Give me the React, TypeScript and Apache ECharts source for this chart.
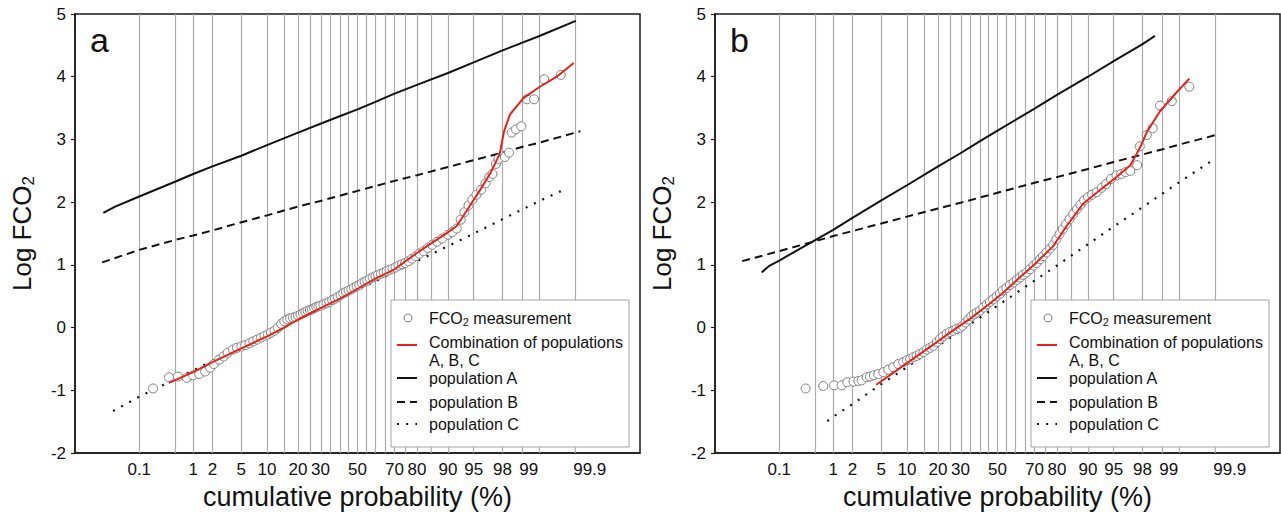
import { useEffect, useRef } from 'react';
import * as echarts from 'echarts';

// ---------- axis definitions ----------
const gridProbs = [0.1, 0.5, 1, 2, 5, 10, 15, 20, 25, 30, 35, 40, 45, 50, 55, 60, 65, 70, 75, 80, 85, 90, 95, 98, 99, 99.5, 99.9];
const tickProbs = [0.1, 1, 2, 5, 10, 20, 30, 50, 70, 80, 90, 95, 98, 99, 99.9];
const tickLabels = ['0.1', '1', '2', '5', '10', '20', '30', '50', '70', '80', '90', '95', '98', '99', '99.9'];
const yMin = -2;
const yMax = 5;

const panelLetters = ['a', 'b'];
const MEAS = 'FCO2 measurement';
const COMB = 'Combination of populations A, B, C';
const POPA = 'population A';
const POPB = 'population B';
const POPC = 'population C';

// ---------- panel a data: [cumulative probability %, log FCO2] ----------
const aPopA: [number, number][] = [[0.016, 1.83], [0.03, 1.93], [0.1, 2.09], [0.5, 2.33], [1, 2.45], [2, 2.57], [5, 2.74], [10, 2.91], [20, 3.11], [30, 3.25], [40, 3.37], [50, 3.48], [60, 3.6], [70, 3.73], [80, 3.87], [90, 4.06], [95, 4.23], [98, 4.42], [99, 4.54], [99.5, 4.65], [99.9, 4.89]];
const aPopB: [number, number][] = [[0.015, 1.04], [0.1, 1.24], [0.5, 1.4], [1, 1.47], [2, 1.55], [5, 1.68], [10, 1.79], [20, 1.93], [30, 2.02], [50, 2.18], [70, 2.34], [80, 2.43], [90, 2.56], [95, 2.67], [98, 2.79], [99, 2.88], [99.5, 2.95], [99.92, 3.13]];
const aPopC: [number, number][] = [[0.027, -1.33], [0.1, -1.1], [0.5, -0.82], [1, -0.68], [2, -0.53], [5, -0.3], [10, -0.1], [20, 0.14], [30, 0.31], [50, 0.6], [70, 0.89], [80, 1.06], [90, 1.3], [95, 1.5], [98, 1.73], [99, 1.88], [99.5, 2.02], [99.85, 2.22]];
const aCombined: [number, number][] = [[0.38, -0.88], [1, -0.71], [2, -0.55], [5, -0.33], [10, -0.14], [15, 0.0], [20, 0.13], [30, 0.31], [40, 0.46], [50, 0.62], [60, 0.78], [70, 0.93], [80, 1.19], [85, 1.34], [90, 1.52], [92, 1.62], [94, 1.88], [96, 2.22], [97, 2.46], [97.8, 2.77], [98.1, 3.13], [98.46, 3.4], [99.06, 3.66], [99.51, 3.84], [99.76, 4.0], [99.89, 4.22]];
const aMeasured: [number, number][] = [[0.19, -0.97], [0.38, -0.79], [0.55, -0.78], [0.78, -0.8], [1.0, -0.76], [1.25, -0.74], [1.55, -0.7], [1.85, -0.64], [2.1, -0.58], [2.5, -0.51], [2.9, -0.46], [3.3, -0.4], [3.9, -0.35], [4.4, -0.32], [5.0, -0.3], [5.6, -0.28], [6.3, -0.25], [7.0, -0.22], [7.8, -0.19], [8.6, -0.16], [9.4, -0.13], [10.2, -0.11], [11, -0.08], [12, -0.05], [13, 0.0], [14, 0.06], [15, 0.1], [16, 0.13], [17, 0.15], [18, 0.16], [19, 0.17], [20, 0.19], [21, 0.21], [22, 0.23], [23, 0.25], [24, 0.27], [25, 0.28], [26, 0.29], [27, 0.31], [28, 0.33], [29, 0.34], [30, 0.35], [31.5, 0.37], [33, 0.39], [34.5, 0.41], [36, 0.44], [37.5, 0.46], [39, 0.49], [40.5, 0.52], [42, 0.55], [43.5, 0.57], [45, 0.59], [46.5, 0.61], [48, 0.64], [49.5, 0.66], [51, 0.68], [52.5, 0.71], [54, 0.73], [55.5, 0.75], [57, 0.78], [58.5, 0.8], [60, 0.82], [61.5, 0.84], [63, 0.86], [64.5, 0.88], [66, 0.9], [67.5, 0.92], [69, 0.94], [70.5, 0.96], [72, 0.99], [73.5, 1.01], [75, 1.03], [76.5, 1.06], [78, 1.1], [79.5, 1.14], [81, 1.18], [82.5, 1.22], [84, 1.27], [85.5, 1.32], [87, 1.37], [88.5, 1.42], [90, 1.48], [91, 1.52], [92, 1.58], [92.8, 1.72], [93.5, 1.84], [94.2, 1.95], [94.8, 2.04], [95.4, 2.12], [96, 2.2], [96.5, 2.3], [96.9, 2.4], [97.2, 2.45], [97.5, 2.61], [97.7, 2.69], [98.15, 2.72], [98.4, 2.79], [98.55, 3.11], [98.75, 3.16], [98.98, 3.21], [99.18, 3.64], [99.38, 3.64], [99.59, 3.96], [99.8, 4.03]];

// ---------- panel b data ----------
const bPopA: [number, number][] = [[0.042, 0.88], [0.06, 0.98], [0.1, 1.07], [0.5, 1.4], [1, 1.56], [2, 1.75], [5, 2.03], [10, 2.27], [20, 2.57], [30, 2.78], [40, 2.97], [50, 3.14], [60, 3.31], [70, 3.49], [80, 3.71], [90, 4.0], [95, 4.25], [98, 4.52], [98.71, 4.65]];
const bPopB: [number, number][] = [[0.015, 1.06], [0.1, 1.22], [0.5, 1.38], [1, 1.46], [2, 1.54], [5, 1.66], [10, 1.77], [20, 1.9], [30, 1.99], [50, 2.15], [70, 2.31], [80, 2.4], [90, 2.53], [95, 2.64], [98, 2.76], [99, 2.84], [99.5, 2.92], [99.9, 3.07]];
const bPopC: [number, number][] = [[0.8, -1.49], [1, -1.42], [2, -1.22], [5, -0.9], [10, -0.63], [20, -0.29], [30, -0.05], [50, 0.35], [70, 0.75], [80, 0.99], [90, 1.33], [95, 1.61], [98, 1.92], [99, 2.13], [99.5, 2.32], [99.88, 2.66]];
const bCombined: [number, number][] = [[4.3, -0.91], [10.8, -0.53], [18.2, -0.27], [25, -0.08], [34.8, 0.14], [45, 0.37], [53.3, 0.56], [62, 0.79], [69.4, 0.99], [78.5, 1.3], [83.6, 1.62], [88.8, 1.98], [92.6, 2.19], [95.4, 2.4], [97.0, 2.59], [97.56, 2.77], [97.93, 2.92], [98.26, 3.11], [98.93, 3.45], [99.45, 3.76], [99.67, 3.97]];
const bMeasured: [number, number][] = [[0.33, -0.97], [0.68, -0.93], [1.03, -0.92], [1.37, -0.92], [1.67, -0.87], [2.07, -0.86], [2.44, -0.85], [2.72, -0.84], [3.2, -0.79], [3.55, -0.78], [4.0, -0.76], [4.57, -0.74], [5.3, -0.71], [6.1, -0.67], [7.0, -0.63], [8.0, -0.58], [9.1, -0.55], [10, -0.52], [10.8, -0.5], [11.7, -0.47], [12.6, -0.45], [13.6, -0.42], [14.7, -0.39], [15.8, -0.35], [17, -0.32], [18.2, -0.29], [19.5, -0.23], [20.8, -0.18], [22, -0.14], [23.5, -0.1], [25, -0.07], [26.5, -0.05], [28, -0.02], [29.8, 0.0], [31, 0.03], [32.5, 0.08], [34, 0.13], [35.5, 0.18], [37, 0.21], [38.5, 0.24], [40.2, 0.27], [42, 0.32], [44, 0.37], [45.8, 0.41], [47.5, 0.45], [49.5, 0.5], [51.4, 0.54], [53, 0.59], [55, 0.63], [57, 0.68], [59, 0.72], [60.7, 0.76], [62.5, 0.8], [64, 0.84], [66, 0.88], [67.7, 0.93], [69.5, 0.99], [71, 1.03], [72.6, 1.09], [74, 1.14], [75.6, 1.2], [77.2, 1.26], [78.5, 1.32], [79.8, 1.41], [81, 1.49], [82.2, 1.57], [83.4, 1.65], [84.6, 1.73], [85.8, 1.81], [87, 1.89], [88, 1.96], [89, 2.03], [90, 2.08], [91, 2.12], [92, 2.16], [93, 2.23], [93.8, 2.29], [94.6, 2.37], [95.4, 2.43], [96.0, 2.45], [96.5, 2.48], [97.0, 2.5], [97.6, 2.59], [97.8, 2.89], [98.27, 3.07], [98.6, 3.18], [98.93, 3.54], [99.32, 3.61], [99.67, 3.84]];

const panels = [
  { popA: aPopA, popB: aPopB, popC: aPopC, combined: aCombined, measured: aMeasured },
  { popA: bPopA, popB: bPopB, popC: bPopC, combined: bCombined, measured: bMeasured },
];

// ---------- styles ----------
const FONT = "'Liberation Sans', Arial, Helvetica, sans-serif";
const INK = '#111111';
const RED = '#e3231b';
const GRIDLINE = '#ababab';
const CIRCLE_BORDER = '#7d7d7d';
const DASH = [8, 5];
const DOT = [2, 7.2];
const gridBoxes = [
  { left: 75, top: 14, width: 565, height: 446 },
  { left: 715, top: 14, width: 565, height: 446 },
];
const legendOrigins = [
  [391, 300],
  [1031, 300],
];
// label nudges (px to the right of the gridline) as printed in the figure
const labelNudge: Record<string, number> = { '99': 7, '99.9': 14 };

// inverse standard normal CDF (probability-paper scale)
function probit(p: number): number {
  const a = [-3.969683028665376e1, 2.209460984245205e2, -2.759285104469687e2, 1.38357751867269e2, -3.066479806614716e1, 2.506628277459239];
  const b = [-5.447609879822406e1, 1.615858368580409e2, -1.556989798598866e2, 6.680131188771972e1, -1.328068155288572e1];
  const c = [-7.784894002430293e-3, -3.223964580411365e-1, -2.400758277161838, -2.549732539343734, 4.374664141464968, 2.938163982698783];
  const d = [7.784695709041462e-3, 3.224671290700398e-1, 2.445134137142996, 3.754408661907416];
  const pl = 0.02425;
  if (p < pl) {
    const q = Math.sqrt(-2 * Math.log(p));
    return (((((c[0] * q + c[1]) * q + c[2]) * q + c[3]) * q + c[4]) * q + c[5]) / ((((d[0] * q + d[1]) * q + d[2]) * q + d[3]) * q + 1);
  }
  if (p <= 1 - pl) {
    const q = p - 0.5;
    const r = q * q;
    return ((((((a[0] * r + a[1]) * r + a[2]) * r + a[3]) * r + a[4]) * r + a[5]) * q) / (((((b[0] * r + b[1]) * r + b[2]) * r + b[3]) * r + b[4]) * r + 1);
  }
  const q = Math.sqrt(-2 * Math.log(1 - p));
  return -(((((c[0] * q + c[1]) * q + c[2]) * q + c[3]) * q + c[4]) * q + c[5]) / ((((d[0] * q + d[1]) * q + d[2]) * q + d[3]) * q + 1);
}

const toXY = (arr: [number, number][]) => arr.map(([p, v]) => [probit(p / 100), v]);
const gridZ = gridProbs.map((p) => probit(p / 100));
const tickZ = tickProbs.map((p) => probit(p / 100));

function labelFor(v: number): string {
  let best = 0;
  for (let i = 1; i < tickZ.length; i++) {
    if (Math.abs(tickZ[i] - v) < Math.abs(tickZ[best] - v)) best = i;
  }
  const t = tickLabels[best];
  if (t === '99.9') return `{r14|${t}}`;
  if (t === '99') return `{r7|${t}}`;
  return t;
}

function legendText(x: number, y: number, text: string) {
  return {
    type: 'text',
    x,
    y,
    z: 101,
    silent: true,
    style: {
      text,
      fill: INK,
      fontSize: 16,
      fontFamily: FONT,
      align: 'left',
      textAlign: 'left',
      verticalAlign: 'middle',
      textVerticalAlign: 'middle',
      rich: {
        t: { fontSize: 16, lineHeight: 18, fontFamily: FONT, fill: INK, color: INK },
        s: { fontSize: 11, lineHeight: 6, verticalAlign: 'bottom', fontFamily: FONT, fill: INK, color: INK },
      },
    },
  };
}

function legendLine(y: number, stroke: string, dash: number[] | null) {
  return {
    type: 'line',
    z: 101,
    silent: true,
    shape: { x1: 6, y1: y, x2: 26, y2: y },
    style: { stroke, lineWidth: 2, lineDash: dash || undefined, lineCap: 'butt' },
  };
}

function legendGroup(x: number, y: number) {
  return {
    type: 'group',
    x,
    y,
    z: 100,
    children: [
      { type: 'rect', z: 100, silent: true, shape: { x: 0, y: 0, width: 238, height: 147 }, style: { fill: '#ffffff', stroke: '#a3a3a3', lineWidth: 1 } },
      { type: 'circle', z: 101, silent: true, shape: { cx: 17, cy: 18, r: 4 }, style: { fill: '#ffffff', stroke: CIRCLE_BORDER, lineWidth: 1 } },
      legendText(38, 18, '{t|FCO}{s|2}{t| measurement}'),
      legendLine(45, RED, null),
      legendText(38, 42, 'Combination of populations'),
      legendText(38, 60, 'A, B, C'),
      legendLine(78, INK, null),
      legendText(38, 78, POPA),
      legendLine(102, INK, DASH),
      legendText(38, 102, POPB),
      legendLine(124, INK, DOT),
      legendText(38, 124, POPC),
    ],
  };
}

function buildOption() {
  const series: any[] = [];
  panels.forEach((pd, i) => {
    series.push({
      type: 'line',
      xAxisIndex: i,
      yAxisIndex: i,
      data: [],
      silent: true,
      z: 1,
      markLine: {
        z: 1,
        silent: true,
        symbol: ['none', 'none'],
        label: { show: false },
        emphasis: { disabled: true },
        lineStyle: { color: GRIDLINE, width: 1.2, type: 'solid' },
        data: gridZ.map((z) => ({ xAxis: z })),
      },
    });
    series.push({
      name: POPA, type: 'line', xAxisIndex: i, yAxisIndex: i, symbol: 'none', z: 3,
      lineStyle: { color: INK, width: 2, type: 'solid' }, data: toXY(pd.popA),
    });
    series.push({
      name: POPB, type: 'line', xAxisIndex: i, yAxisIndex: i, symbol: 'none', z: 3,
      lineStyle: { color: INK, width: 2, type: DASH, cap: 'butt' }, data: toXY(pd.popB),
    });
    series.push({
      name: POPC, type: 'line', xAxisIndex: i, yAxisIndex: i, symbol: 'none', z: 3,
      lineStyle: { color: INK, width: 2.2, type: DOT, cap: 'butt' }, data: toXY(pd.popC),
    });
    series.push({
      name: MEAS, type: 'scatter', xAxisIndex: i, yAxisIndex: i, symbol: 'circle', symbolSize: 9, z: 4,
      itemStyle: { color: '#ffffff', borderColor: CIRCLE_BORDER, borderWidth: 1, opacity: 1 },
      data: toXY(pd.measured),
    });
    series.push({
      name: COMB, type: 'line', xAxisIndex: i, yAxisIndex: i, symbol: 'none', z: 5,
      lineStyle: { color: RED, width: 2 }, data: toXY(pd.combined),
    });
  });

  return {
    animation: false,
    backgroundColor: '#ffffff',
    textStyle: { fontFamily: FONT, color: INK },
    title: panelLetters.map((t, i) => ({
      text: t,
      left: gridBoxes[i].left + 10,
      top: 18,
      textStyle: { fontSize: 34, fontWeight: 'normal', color: INK, fontFamily: FONT },
    })),
    grid: gridBoxes.map((g) => ({
      ...g,
      show: true,
      borderColor: '#1a1a1a',
      borderWidth: 1.5,
      backgroundColor: 'transparent',
      containLabel: false,
    })),
    xAxis: panels.map((_, i) => ({
      type: 'value',
      gridIndex: i,
      min: -4,
      max: 4,
      axisLine: { show: true, onZero: false, lineStyle: { color: '#1a1a1a', width: 1.5 } },
      axisTick: { show: false },
      splitLine: { show: false },
      axisLabel: {
        customValues: tickZ,
        formatter: labelFor,
        fontSize: 17,
        color: INK,
        margin: 8,
        rich: {
          r14: { fontSize: 17, color: INK, fontFamily: FONT, padding: [0, 0, 0, labelNudge['99.9'] * 2] },
          r7: { fontSize: 17, color: INK, fontFamily: FONT, padding: [0, 0, 0, labelNudge['99'] * 2] },
        },
      },
      name: 'cumulative probability (%)',
      nameLocation: 'middle',
      nameGap: 21,
      nameTextStyle: { fontSize: 27, color: INK, fontFamily: FONT },
    })),
    yAxis: panels.map((_, i) => ({
      type: 'value',
      gridIndex: i,
      min: yMin,
      max: yMax,
      interval: 1,
      axisLine: { show: true, onZero: false, lineStyle: { color: '#1a1a1a', width: 1.5 } },
      axisTick: { show: true, length: 4, lineStyle: { color: '#1a1a1a', width: 1.2 } },
      splitLine: { show: false },
      axisLabel: { fontSize: 17, color: INK, margin: 9 },
      name: '{t|Log FCO}{s|2}',
      nameLocation: 'middle',
      nameGap: 38,
      nameRotate: 90,
      nameTextStyle: {
        fontSize: 26,
        color: INK,
        fontFamily: FONT,
        rich: {
          t: { fontSize: 26, lineHeight: 30, color: INK, fontFamily: FONT },
          s: { fontSize: 17, lineHeight: 14, verticalAlign: 'bottom', color: INK, fontFamily: FONT },
        },
      },
    })),
    series,
    graphic: legendOrigins.map(([x, y]) => legendGroup(x, y)),
  };
}

export default function App() {
  const ref = useRef<HTMLDivElement>(null);
  useEffect(() => {
    if (!ref.current) return;
    const chart = echarts.init(ref.current, undefined, { renderer: 'svg' });
    chart.setOption(buildOption() as any);
    return () => chart.dispose();
  }, []);
  return (
    <div
      ref={ref}
      style={{ position: 'absolute', left: 0, top: 0, width: 1281, height: 515, background: '#fff' }}
    />
  );
}
